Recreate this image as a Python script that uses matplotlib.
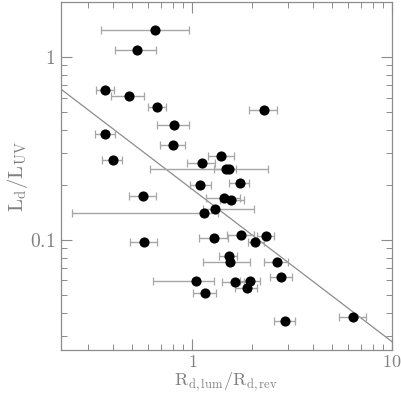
import matplotlib
matplotlib.use('Agg')
import matplotlib.pyplot as plt
import numpy as np

# R_d,lum / R_d,rev with asymmetric x errors (low, high), and L_d / L_UV
r_ratio = [0.648, 0.531, 0.364, 0.480, 0.668, 2.283, 0.806, 0.367, 0.804, 0.400,
           1.396, 1.116, 1.474, 1.519, 0.566, 1.096, 1.738, 1.437, 1.563, 1.303,
           1.142, 0.571, 1.291, 1.752, 2.344, 2.065, 1.531, 1.537, 2.640, 2.796,
           1.047, 1.635, 1.943, 1.868, 1.157, 2.928, 6.346]
r_lo = [0.350, 0.411, 0.330, 0.390, 0.600, 1.921, 0.663, 0.325, 0.692, 0.355,
        1.192, 0.936, 1.278, 0.612, 0.481, 0.969, 1.522, 1.175, 1.380, 1.135,
        0.249, 0.486, 1.080, 1.484, 2.106, 1.905, 1.365, 1.126, 2.273, 2.455,
        0.633, 1.413, 1.738, 1.641, 1.003, 2.579, 5.451]
r_hi = [0.958, 0.658, 0.404, 0.575, 0.739, 2.661, 0.958, 0.412, 0.923, 0.445,
        1.622, 1.303, 1.646, 2.407, 0.655, 1.245, 1.932, 1.738, 1.805, 2.030,
        1.349, 0.666, 1.508, 2.025, 2.570, 2.273, 1.679, 1.950, 3.020, 3.162,
        1.278, 1.805, 2.188, 2.106, 1.314, 3.262, 7.386]
l_ratio = [1.406, 1.087, 0.660, 0.612, 0.533, 0.514, 0.424, 0.379, 0.330, 0.274,
           0.288, 0.262, 0.245, 0.245, 0.174, 0.199, 0.204, 0.169, 0.165, 0.147,
           0.140, 0.0970, 0.102, 0.107, 0.1046, 0.0970, 0.0815, 0.0756, 0.0756, 0.0630,
           0.0599, 0.0586, 0.0599, 0.0546, 0.0511, 0.0362, 0.0379]

# fitted power law  L_d/L_UV = a * x^b
fit_a = 0.189
fit_b = -0.833

plt.rcParams['mathtext.fontset'] = 'cm'
plt.rcParams['font.family'] = 'serif'
plt.rcParams['font.serif'] = ['DejaVu Serif']

grey = '#8c8c8c'
x = np.array(r_ratio)
xerr = [x - np.array(r_lo), np.array(r_hi) - x]

fig = plt.figure(figsize=(4.01, 3.94), dpi=100)
ax = fig.add_axes([61/401, 44/394, 331/401, 348/394])

ax.errorbar(x, l_ratio, xerr=xerr, fmt='none', ecolor='#a6a6a6',
            elinewidth=1.0, capsize=2.8, capthick=0.9, zorder=2)
ax.plot(x, l_ratio, 'o', color='black', markersize=6.3, zorder=3)

xl = np.array([0.22, 10.0])
ax.plot(xl, fit_a * xl**fit_b, color='#8c8c8c', linewidth=0.9, zorder=1)

ax.set_xscale('log')
ax.set_yscale('log')
ax.set_xlim(0.22, 10)
ax.set_ylim(0.025, 2)

for s in ax.spines.values():
    s.set_color(grey)
    s.set_linewidth(0.9)
ax.tick_params(which='both', direction='in', top=True, right=True, colors=grey,
               labelcolor='#808080', labelsize=14)
ax.tick_params(which='major', length=8, width=0.8, pad=4)
ax.tick_params(axis='x', which='major', pad=2, labelsize=13)
ax.tick_params(which='minor', length=4, width=0.7)
ax.xaxis.set_major_formatter(matplotlib.ticker.FuncFormatter(lambda v, p: '$%g$' % v))
ax.yaxis.set_major_formatter(matplotlib.ticker.FuncFormatter(lambda v, p: '$%g$' % v))
ax.xaxis.set_minor_formatter(matplotlib.ticker.NullFormatter())
ax.yaxis.set_minor_formatter(matplotlib.ticker.NullFormatter())

fig.text(226/401, 1/394, r'$\mathrm{R_{d,lum}/R_{d,rev}}$', fontsize=13,
         color='#808080', ha='center', va='bottom')
ax.set_ylabel(r'$\mathrm{L_d/L_{UV}}$', fontsize=15, color='#808080', labelpad=0)

fig.savefig('out.png', dpi=100)
